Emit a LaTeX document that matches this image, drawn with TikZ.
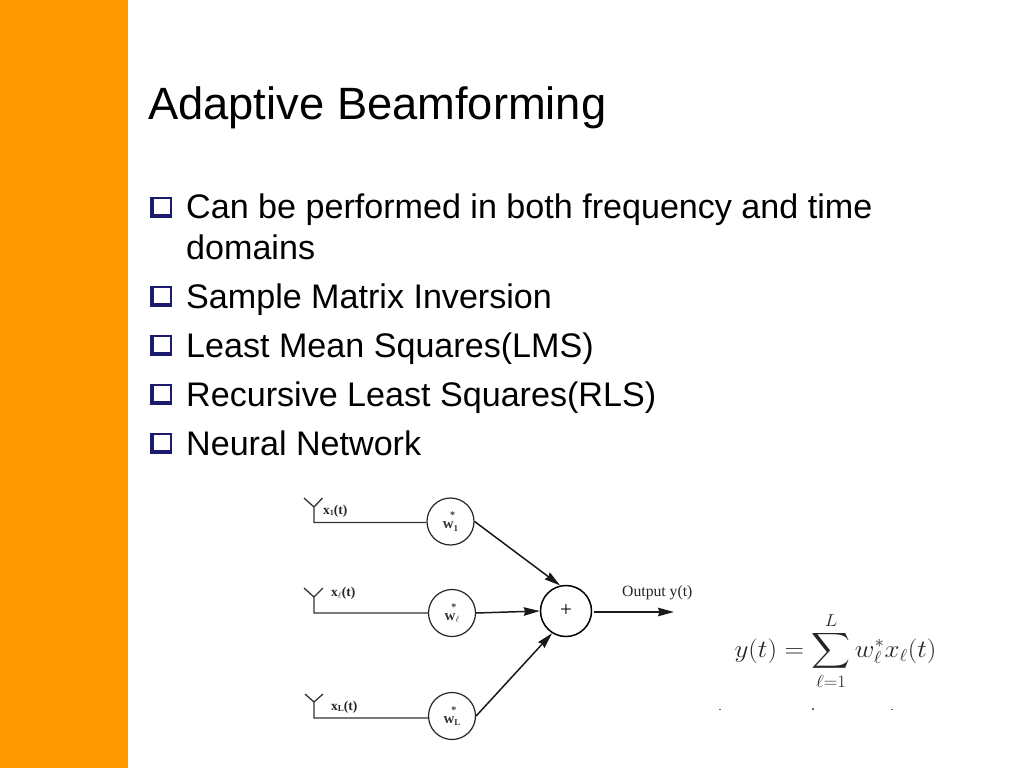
\documentclass[tikz,border=0pt]{standalone}
\usepackage{fontspec}
\usepackage{amsmath}
\usepackage{graphicx}
\setmainfont{Liberation Sans}
\newfontfamily\figserif{Liberation Serif}
\usetikzlibrary{arrows.meta}
\tikzset{
  x=1pt,y=-1pt,
  title/.style={anchor=base west,inner sep=0,font=\fontsize{45.3}{45.3}\selectfont},
  bodytext/.style={anchor=base west,inner sep=0,font=\fontsize{34.1}{34.1}\selectfont},
  weight/.style={circle,draw=black!85,line width=1.2pt,minimum size=47pt,inner sep=0,font=\figserif\bfseries\fontsize{15}{15}\selectfont,text=black!80},
  summer/.style={circle,draw=black,line width=1.5pt,minimum size=51pt,inner sep=0,font=\figserif\fontsize{21}{21}\selectfont},
  siglabel/.style={anchor=base west,inner sep=0,text=black!85,font=\figserif\bfseries\fontsize{13.5}{13.5}\selectfont},
  wire/.style={draw=black!80,line width=1.3pt},
  flow/.style={draw=black!90,line width=1.5pt,-{Stealth[length=16pt,width=8.5pt,inset=1.5pt]}}
}
\definecolor{barorange}{HTML}{FF9900}
\definecolor{bulletnavy}{HTML}{1A1A6E}
\newcommand{\sqbullet}[1]{%
  \fill[bulletnavy] (149.5,#1-11) rectangle (172,#1+9.5);
  \fill[white] (153.5,#1-9) rectangle (169.5,#1+5.5);
}
\newcommand{\wlabel}[2]{w\raisebox{-2.5pt}{\fontsize{9}{9}\selectfont #1}\llap{\raisebox{10pt}{\fontsize{10}{10}\selectfont *\kern#2}}}
\begin{document}
\begin{tikzpicture}
\useasboundingbox (0,0) rectangle (1024,768);
\fill[white] (0,0) rectangle (1024,768);
\fill[barorange] (0,0) rectangle (128,768);
\node[title] (ttl) at (148,119) {Adaptive Beamforming};
\node[bodytext] (b1) at (186,218) {Can be performed in both frequency and time};
\node[bodytext] (b1b) at (186,259) {domains};
\node[bodytext] (b2) at (186,308) {Sample Matrix Inversion};
\node[bodytext] (b3) at (186,357) {Least Mean Squares(LMS)};
\node[bodytext] (b4) at (186,406) {Recursive Least Squares(RLS)};
\node[bodytext] (b5) at (186,455) {Neural Network};
\sqbullet{208}\sqbullet{297}\sqbullet{346}\sqbullet{395}\sqbullet{444}
% weights
\node[weight] (w1) at (450.5,521.5) {\wlabel{1}{3pt}};
\node[weight] (wl) at (452,613) {\wlabel{$\ell$}{3pt}};
\node[weight] (wL) at (452,716) {\wlabel{L}{4pt}};
\node[summer] (sum) at (566,611) {+};
% antennas
\coordinate (a1) at (314,507); \coordinate (a1f) at (314,522.5);
\coordinate (a1l) at (304,498); \coordinate (a1r) at (322.5,498);
\coordinate (a2) at (314,597); \coordinate (a2f) at (314,613);
\coordinate (a2l) at (304,588); \coordinate (a2r) at (323,588);
\coordinate (a3) at (314,702); \coordinate (a3f) at (314,718);
\coordinate (a3l) at (305,694); \coordinate (a3r) at (323,694);
\draw[wire] (a1l) -- (a1) -- (a1r) (a1) -- (a1f) -- (w1.west |- a1f);
\draw[wire] (a2l) -- (a2) -- (a2r) (a2) -- (a2f) -- (wl.west);
\draw[wire] (a3l) -- (a3) -- (a3r) (a3) -- (a3f) -- (wL.west |- a3f);
\node[siglabel] (x1) at (323,514) {x\raisebox{-1pt}{\fontsize{8}{8}\selectfont 1}(t)};
\node[siglabel] (x2) at (331,596) {x\raisebox{-2pt}{\fontsize{9}{9}\selectfont$\ell$}(t)};
\node[siglabel] (x3) at (331,710) {x\raisebox{-1pt}{\fontsize{9}{9}\selectfont L}(t)};
% connectors
\draw[flow] (w1.east) -- (sum.103);
\draw[flow] (wl.east) -- (sum.west);
\draw[flow] (wL.east) -- (sum.238);
\coordinate (out) at (674,612);
\draw[flow] (sum.east |- out) ++(1.5,0) -- (out);
\node[anchor=base west,inner sep=0,text=black!85,font=\figserif\fontsize{15.7}{15.7}\selectfont] (ol) at (622,596) {Output y(t)};
% formula
\node[anchor=center,inner sep=0,text=black!85,font=\fontsize{27}{27}\selectfont] (eq) at (835.5,651) {\scalebox{1.085}[1]{$\displaystyle y(t)=\sum_{\ell=1}^{L} w_\ell^{*} x_\ell(t)$}};
% specks
\fill[black!60] (719,708.5) rectangle (721,709.5);
\fill[black!60] (812,708) rectangle (814,709.5);
\fill[black!60] (891,708.5) rectangle (893,709.5);
\end{tikzpicture}
\end{document}
